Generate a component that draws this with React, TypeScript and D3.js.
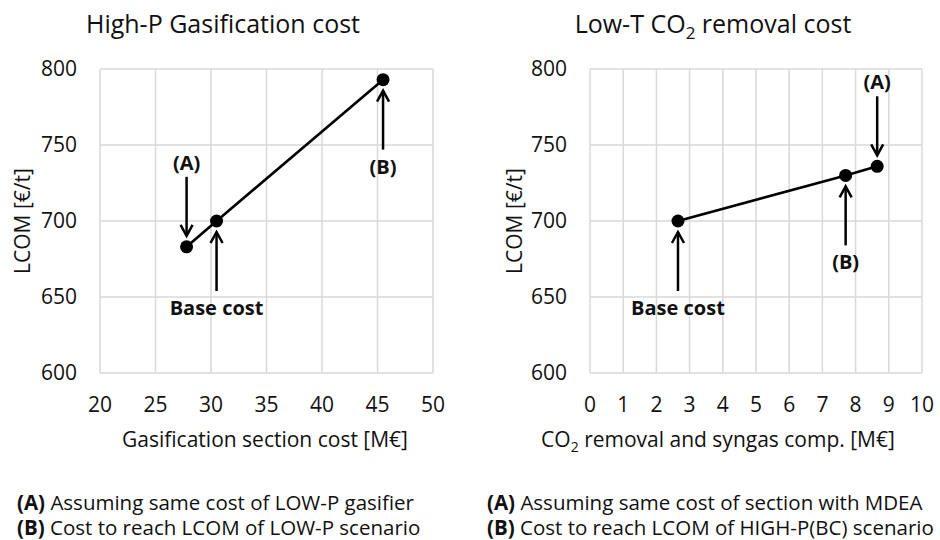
import * as d3 from 'd3';
import React from 'react';

// values
const gasCost = [27.8, 30.5, 45.5];
const gasLcom = [683, 700, 793];
const gasLabels = ['(A)', 'Base cost', '(B)'];
const gasSide = ['above', 'below', 'below'];
const gasTicks = [20, 25, 30, 35, 40, 45, 50];

const co2Cost = [2.65, 7.7, 8.65];
const co2Lcom = [700, 730, 736];
const co2Labels = ['Base cost', '(B)', '(A)'];
const co2Side = ['below', 'below', 'above'];
const co2Ticks = [0, 1, 2, 3, 4, 5, 6, 7, 8, 9, 10];

const lcomTicks = [600, 650, 700, 750, 800];

const FONT = '"Open Sans", sans-serif';

function Panel({ x0, x1, xs, ys, labels, sides, xTicks, title, titleX, xLabel, xLabelX, yLabelX }) {
    const x = d3.scaleLinear().domain([xTicks[0], xTicks[xTicks.length - 1]]).range([x0, x1]);
    const y = d3.scaleLinear().domain([600, 800]).range([373, 69]);
    const line = d3.line().x(d => x(d[0])).y(d => y(d[1]));
    const pts = xs.map((v, i) => [v, ys[i]]);

    return (
        <g fontFamily={FONT}>
            <text x={titleX} y={33} fontSize={25} textAnchor="middle" fill="#111">{title}</text>
            {xTicks.map(t => (
                <line key={'vx' + t} x1={x(t)} x2={x(t)} y1={y(600)} y2={y(800)} stroke="#d9d9d9" strokeWidth={1.5} />
            ))}
            {lcomTicks.map(t => (
                <line key={'hy' + t} x1={x0} x2={x1} y1={y(t)} y2={y(t)} stroke="#d9d9d9" strokeWidth={1.5} />
            ))}
            {lcomTicks.map(t => (
                <text key={'ly' + t} x={x0 - 23} y={y(t)} dy="0.35em" fontSize={21} textAnchor="end" fill="#111">{t}</text>
            ))}
            {xTicks.map(t => (
                <text key={'lx' + t} x={x(t)} y={412} fontSize={21} textAnchor="middle" fill="#111">{t}</text>
            ))}
            <text x={xLabelX} y={447} fontSize={21} textAnchor="middle" fill="#111">{xLabel}</text>
            <text transform={`translate(${yLabelX},221) rotate(-90)`} fontSize={21} textAnchor="middle" fill="#111">LCOM [€/t]</text>

            <path d={line(pts)} fill="none" stroke="#000" strokeWidth={2.6} />
            {pts.map((p, i) => (
                <circle key={'c' + i} cx={x(p[0])} cy={y(p[1])} r={6.5} fill="#000" />
            ))}

            {pts.map((p, i) => {
                const px = x(p[0]);
                const py = y(p[1]);
                const s = sides[i] === 'below' ? 1 : -1;
                const tip = py + s * 11;
                const tail = py + s * 70;
                const ly = s > 0 ? tail + 24 : tail - 7;
                return (
                    <g key={'a' + i}>
                        <line x1={px} x2={px} y1={tail} y2={tip} stroke="#000" strokeWidth={2.5} />
                        <path d={`M${px - 6},${tip + s * 11} L${px},${tip} L${px + 6},${tip + s * 11}`} fill="none" stroke="#000" strokeWidth={2.5} />
                        <text x={px} y={ly} fontSize={20} fontWeight="bold" textAnchor="middle" fill="#111">{labels[i]}</text>
                    </g>
                );
            })}
        </g>
    );
}

function Note({ x, y, tag, text }) {
    return (
        <text x={x} y={y} fontFamily={FONT} fontSize={20.5} fill="#111">
            <tspan fontWeight="bold">{tag}</tspan> {text}
        </text>
    );
}

export default function App() {
    return (
        <svg width={940} height={540} style={{ position: 'absolute', left: 0, top: 0, background: '#fff' }}>
            <Panel x0={100} x1={433} xs={gasCost} ys={gasLcom} labels={gasLabels} sides={gasSide}
                xTicks={gasTicks} title="High-P Gasification cost" titleX={223}
                xLabel="Gasification section cost [M€]" xLabelX={265} yLabelX={30} />
            <Panel x0={590} x1={922} xs={co2Cost} ys={co2Lcom} labels={co2Labels} sides={co2Side}
                xTicks={co2Ticks}
                title={<>Low-T CO<tspan dy={6} fontSize={17}>2</tspan><tspan dy={-6}> removal cost</tspan></>}
                titleX={713}
                xLabel={<>CO<tspan dy={5} fontSize={14}>2</tspan><tspan dy={-5}> removal and syngas comp. [M€]</tspan></>}
                xLabelX={718} yLabelX={522} />
            <Note x={17} y={510} tag="(A)" text="Assuming same cost of LOW-P gasifier" />
            <Note x={17} y={535} tag="(B)" text="Cost to reach LCOM of LOW-P scenario" />
            <Note x={487} y={510} tag="(A)" text="Assuming same cost of section with MDEA" />
            <Note x={487} y={535} tag="(B)" text="Cost to reach LCOM of HIGH-P(BC) scenario" />
        </svg>
    );
}
